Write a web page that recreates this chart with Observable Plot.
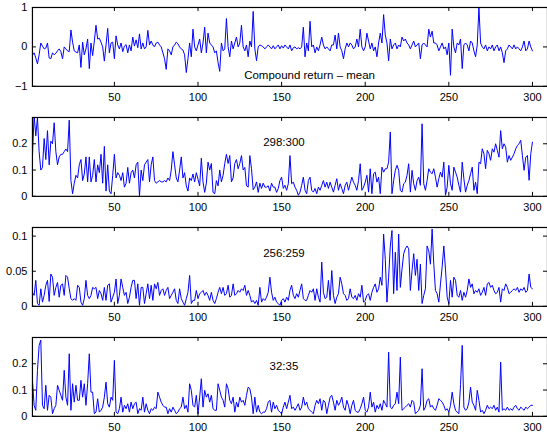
<!DOCTYPE html>
<html>
<head>
<meta charset="utf-8">
<script src="https://cdn.jsdelivr.net/npm/d3@7"></script>
<script src="https://cdn.jsdelivr.net/npm/@observablehq/plot@0.6"></script>
<style>
  html, body { margin: 0; padding: 0; background: #fff; overflow: hidden; }
  #chart { position: relative; width: 547px; height: 434px; overflow: hidden; }
  #chart svg { position: absolute; left: 0; }
</style>
</head>
<body>
<div id="chart"></div>
<script>
// Compound return minus its mean, observations 1..300
const compoundReturn = [
  -0.21,-0.15,-0.28,-0.43,-0.2,0.1,0.02,-0.05,-0.03,0.1,
  -0.28,-0.3,-0.15,-0.2,-0.16,-0.1,-0.05,-0.12,-0.3,0.0,
  -0.05,-0.1,-0.12,0.43,0.12,-0.1,-0.13,-0.15,0.05,-0.52,
  0.12,-0.2,-0.05,0.2,-0.55,0.1,-0.22,0.15,0.55,0.2,
  0.22,0.12,0.0,-0.36,0.05,0.47,-0.15,0.1,0.12,-0.3,
  0.28,0.05,-0.05,0.1,-0.12,0.02,0.06,-0.15,0.05,-0.1,
  0.25,0.02,0.18,-0.02,0.33,-0.05,0.1,-0.05,0.0,0.42,
  0.05,0.15,0.05,0.0,0.1,0.12,0.05,0.0,-0.15,-0.3,
  -0.57,-0.05,-0.1,-0.2,0.0,0.05,0.12,0.08,0.0,-0.05,
  -0.08,-0.2,-0.65,-0.3,0.1,-0.25,0.45,0.0,-0.1,0.05,
  0.2,-0.15,0.1,0.5,-0.15,0.35,0.1,0.05,0.0,-0.15,
  -0.1,-0.4,-0.62,0.1,-0.1,-0.05,0.72,0.0,-0.25,0.15,
  -0.05,0.1,0.25,0.0,0.1,0.55,0.0,-0.1,0.05,-0.25,
  0.15,0.0,0.9,-0.05,-0.35,0.0,0.05,0.03,0.0,-0.05,
  0.0,0.05,0.0,-0.05,0.03,-0.05,0.0,0.05,-0.05,0.03,
  -0.03,0.05,0.0,-0.05,0.05,-0.1,-0.02,0.0,-0.05,-0.02,
  -0.05,0.0,0.5,-0.25,0.1,-0.1,0.65,0.0,0.05,-0.15,
  0.0,-0.1,0.05,0.25,0.05,-0.05,0.0,-0.05,-0.1,0.05,
  0.05,0.3,-0.05,0.35,0.0,-0.1,-0.3,-0.05,0.1,0.0,
  0.1,0.05,-0.05,0.0,0.2,0.0,0.45,0.0,-0.1,0.0,
  0.35,0.15,-0.05,0.1,-0.1,0.0,-0.25,0.1,0.35,0.1,
  0.82,0.3,0.1,-0.35,0.2,-0.05,0.05,0.1,-0.05,0.05,
  0.0,0.25,0.15,0.2,0.1,0.05,-0.05,0.05,0.15,0.0,
  0.05,0.1,-0.3,0.05,0.1,0.05,0.0,0.45,0.25,0.4,
  0.1,0.1,0.05,-0.1,0.0,0.1,-0.05,0.0,-0.2,0.1,
  -0.72,0.45,0.0,-0.15,0.1,0.05,0.2,-0.55,0.05,0.1,
  0.05,-0.1,0.15,0.1,-0.1,-0.25,0.05,1.0,0.1,0.0,
  -0.05,0.05,-0.1,0.0,-0.05,0.05,-0.1,0.0,0.05,-0.1,
  0.0,-0.15,-0.4,-0.1,-0.05,0.05,0.0,-0.05,0.05,-0.05,
  0.0,-0.05,-0.1,0.0,0.15,-0.1,-0.05,0.15,0.0,-0.1
];

// Components 298:300
const comp298to300 = [
  0.15,0.31,0.23,0.3,0.17,0.1,0.11,0.22,0.14,0.25,
  0.12,0.21,0.2,0.28,0.17,0.12,0.15,0.16,0.16,0.17,
  0.18,0.17,0.29,0.06,0.01,0.05,0.08,0.07,0.12,0.14,
  0.06,0.085,0.15,0.055,0.15,0.055,0.08,0.14,0.055,0.12,
  0.09,0.16,0.05,0.19,0.02,0.12,0.02,0.01,0.08,0.16,
  0.07,0.09,0.08,0.06,0.09,0.035,0.05,0.11,0.05,0.09,
  0.1,0.07,0.12,0.13,0.0,0.1,0.06,0.12,0.13,0.14,
  0.055,0.12,0.15,0.06,0.05,0.055,0.06,0.055,0.055,0.06,
  0.055,0.07,0.06,0.1,0.17,0.12,0.07,0.055,0.1,0.15,
  0.07,0.09,0.04,0.02,0.07,0.06,0.085,0.055,0.09,0.065,
  0.04,0.145,0.055,0.015,0.05,0.13,0.1,0.125,0.015,0.01,
  0.06,0.04,0.1,0.055,0.08,0.125,0.16,0.125,0.155,0.055,
  0.07,0.125,0.14,0.105,0.125,0.155,0.1,0.11,0.04,0.035,
  0.155,0.105,0.025,0.035,0.055,0.015,0.05,0.03,0.05,0.035,
  0.035,0.04,0.02,0.05,0.035,0.035,0.015,0.03,0.06,0.073,
  0.03,0.042,0.023,0.048,0.155,0.048,0.054,0.035,0.023,0.004,
  0.016,0.042,0.073,0.023,0.01,0.06,0.073,0.023,0.016,0.03,
  0.01,0.035,0.023,0.042,0.06,0.035,0.054,0.03,0.054,0.035,
  0.016,0.042,0.067,0.023,0.048,0.03,0.01,0.042,0.054,0.023,
  0.048,0.073,0.054,0.042,0.023,0.06,0.124,0.023,0.035,0.054,
  0.08,0.016,0.105,0.01,0.086,0.092,0.054,0.073,0.01,0.111,
  0.092,0.105,0.105,0.13,0.245,0.01,0.06,0.099,0.118,0.099,
  0.023,0.016,0.048,0.054,0.08,0.124,0.016,0.099,0.048,0.023,
  0.06,0.073,0.042,0.276,0.048,0.023,0.06,0.105,0.092,0.086,
  0.105,0.073,0.035,0.067,0.092,0.073,0.13,0.004,0.035,0.118,
  0.048,0.023,0.111,0.092,0.073,0.042,0.016,0.13,0.067,0.016,
  0.042,0.06,0.086,0.111,0.023,0.054,0.01,0.13,0.124,0.181,
  0.162,0.105,0.175,0.162,0.137,0.181,0.168,0.2,0.175,0.149,
  0.25,0.181,0.2,0.187,0.13,0.155,0.137,0.149,0.162,0.181,
  0.194,0.2,0.213,0.155,0.099,0.149,0.155,0.061,0.162,0.206
];

// Components 256:259
const comp256to259 = [
  0.020,0.0156,0.037,0.004,0.0014,0.025,0.006,0.0156,0.030,0.037,
  0.007,0.046,0.0415,0.0156,0.027,0.034,0.013,0.030,0.032,0.0156,
  0.044,0.0415,0.025,0.011,0.0085,0.011,0.0085,0.030,0.027,0.006,
  0.0014,0.011,0.037,0.0156,0.011,0.0156,0.027,0.025,0.027,0.011,
  0.0226,0.018,0.0085,0.027,0.0085,0.030,0.032,0.006,0.013,0.020,
  0.039,0.004,0.0156,0.039,0.027,0.0156,0.020,0.004,0.013,0.027,
  0.037,0.037,0.011,0.032,0.0014,0.027,0.027,0.004,0.018,0.032,
  0.011,0.030,0.0085,0.032,0.025,0.034,0.0156,0.0226,0.025,0.0156,
  0.0226,0.027,0.011,0.0156,0.020,0.025,0.0085,0.004,0.025,0.011,
  0.006,0.0014,0.011,0.020,0.044,0.004,0.0085,0.0085,0.0226,0.011,
  0.018,0.020,0.0226,0.0156,0.020,0.0156,0.0085,0.020,0.0085,0.004,
  0.011,0.020,0.027,0.018,0.027,0.0156,0.018,0.030,0.013,0.0156,
  0.032,0.0156,0.018,0.0226,0.020,0.025,0.0226,0.030,0.0156,0.0226,
  0.0156,0.006,0.0085,0.004,0.0085,0.0014,0.027,0.006,0.011,0.0085,
  0.013,0.020,0.0415,0.020,0.0085,0.013,0.006,0.004,0.0014,0.0085,
  0.011,0.006,0.013,0.0085,0.0226,0.030,0.0156,0.011,0.018,0.013,
  0.0226,0.032,0.011,0.0085,0.0085,0.0156,0.0226,0.020,0.025,0.0085,
  0.025,0.013,0.006,0.063,0.020,0.011,0.013,0.037,0.0085,0.051,
  0.0156,0.004,0.013,0.018,0.0415,0.032,0.018,0.0156,0.0085,0.011,
  0.025,0.013,0.011,0.0156,0.0085,0.018,0.013,0.030,0.006,0.0085,
  0.0156,0.018,0.0085,0.020,0.027,0.032,0.020,0.025,0.0415,0.030,
  0.103,0.067,0.006,0.0415,0.086,0.108,0.018,0.077,0.0226,0.103,
  0.027,0.053,0.075,0.082,0.086,0.082,0.0226,0.051,0.075,0.044,
  0.067,0.0226,0.060,0.004,0.0156,0.025,0.086,0.079,0.060,0.11,
  0.060,0.0226,0.018,0.006,0.032,0.056,0.086,0.053,0.013,0.004,
  0.037,0.013,0.0415,0.037,0.0156,0.013,0.0226,0.0085,0.020,0.013,
  0.0226,0.039,0.027,0.032,0.018,0.0226,0.020,0.025,0.0156,0.020,
  0.027,0.0156,0.032,0.034,0.027,0.030,0.0226,0.018,0.020,0.027,
  0.006,0.025,0.0226,0.032,0.027,0.018,0.020,0.0226,0.025,0.0226,
  0.027,0.020,0.025,0.0226,0.027,0.020,0.0226,0.046,0.027,0.025
];

// Components 32:35
const comp32to35 = [
  0.137,0.042,0.023,0.175,0.27,0.29,0.042,0.029,0.118,0.023,
  0.08,0.073,0.01,0.029,0.042,0.118,0.099,0.08,0.061,0.175,
  0.073,0.042,0.238,0.023,0.124,0.054,0.118,0.061,0.061,0.137,
  0.073,0.124,0.042,0.124,0.238,0.092,0.092,0.01,0.016,0.067,
  0.016,0.023,0.035,0.073,0.13,0.048,0.035,0.073,0.061,0.213,
  0.016,0.01,0.029,0.073,0.016,0.042,0.029,0.048,0.016,0.054,
  0.029,0.048,0.054,0.01,0.029,0.023,0.073,0.016,0.048,0.023,
  0.01,0.029,0.023,0.035,0.029,0.092,0.073,0.054,0.042,0.035,
  0.035,0.01,0.029,0.016,0.035,0.023,0.01,0.016,0.029,0.035,
  0.073,0.029,0.042,0.016,0.124,0.099,0.042,0.035,0.08,0.01,
  0.073,0.143,0.035,0.099,0.073,0.086,0.054,0.08,0.029,0.023,
  0.023,0.124,0.099,0.073,0.061,0.035,0.124,0.105,0.061,0.048,
  0.073,0.016,0.054,0.035,0.073,0.054,0.061,0.042,0.08,0.111,
  0.105,0.073,0.01,0.073,0.016,0.042,0.016,0.01,0.016,0.016,
  0.029,0.054,0.061,0.016,0.054,0.029,0.042,0.023,0.016,0.01,
  0.035,0.054,0.029,0.054,0.08,0.029,0.035,0.023,0.035,0.048,
  0.023,0.035,0.073,0.042,0.054,0.029,0.023,0.016,0.01,0.042,
  0.061,0.048,0.067,0.023,0.061,0.054,0.01,0.042,0.073,0.08,
  0.054,0.023,0.061,0.042,0.054,0.073,0.035,0.023,0.061,0.042,
  0.01,0.042,0.061,0.023,0.016,0.016,0.029,0.048,0.073,0.023,
  0.016,0.035,0.092,0.035,0.054,0.016,0.042,0.029,0.048,0.023,
  0.061,0.048,0.035,0.244,0.035,0.029,0.042,0.048,0.092,0.048,
  0.225,0.023,0.029,0.035,0.042,0.048,0.035,0.061,0.054,0.01,
  0.016,0.023,0.042,0.181,0.023,0.035,0.061,0.067,0.035,0.042,
  0.029,0.023,0.042,0.067,0.061,0.054,0.042,0.023,0.029,0.016,
  0.042,0.092,0.048,0.023,0.016,0.01,0.12,0.27,0.035,0.023,
  0.029,0.054,0.111,0.054,0.042,0.023,0.099,0.061,0.016,0.023,
  0.01,0.023,0.042,0.029,0.035,0.029,0.042,0.023,0.035,0.016,
  0.206,0.023,0.029,0.023,0.035,0.023,0.029,0.023,0.035,0.042,
  0.029,0.023,0.035,0.029,0.023,0.035,0.029,0.035,0.042,0.042
];

const xTicks = [50, 100, 150, 200, 250, 300];

const panelTitles = ["Compound return – mean", "298:300", "256:259", "32:35"];
const panelSeries = [compoundReturn, comp298to300, comp256to259, comp32to35];
const panelYDomains = [[-1, 1], [0, 0.3], [0, 0.1123], [0, 0.3]];
const panelYTicks = [[-1, 0, 1], [0, 0.1, 0.2], [0, 0.05, 0.1], [0, 0.1, 0.2]];
// where each panel's caption sits, in that panel's data units
const titleAt = [[166.7, -0.71], [151.4, 0.206], [151.4, 0.0749], [151.4, 0.19]];

const W = 548, H = 110, ML = 32, MR = 0, MT = 7, MB = 24;
const plotW = W - ML - MR, plotH = H - MT - MB, tickLen = 4;
const ink = "#000";
const chart = document.getElementById("chart");

// plain tick labels: "0", "0.05", "−1"
const fmt = d => (d < 0 ? "\u2212" : "") + String(Math.abs(d));

panelSeries.forEach((values, k) => {
  const data = values.map((v, i) => ({t: i + 1, v}));
  const svg = Plot.plot({
    width: W,
    height: H,
    marginLeft: ML,
    marginRight: MR,
    marginTop: MT,
    marginBottom: MB,
    style: {fontFamily: "'Liberation Sans', Arial, Helvetica, sans-serif", fontSize: "11px", color: ink, background: "transparent", overflow: "visible"},
    x: {domain: [1, 309]},
    y: {domain: panelYDomains[k]},
    marks: [
      Plot.lineY(data, {x: "t", y: "v", stroke: "#0000ff", strokeWidth: 1, clip: true}),
      Plot.frame({stroke: ink, strokeWidth: 1.2}),
      // inward ticks on all four sides
      Plot.tickX(xTicks, {x: d => d, insetTop: plotH - tickLen, stroke: ink}),
      Plot.tickX(xTicks, {x: d => d, insetBottom: plotH - tickLen, stroke: ink}),
      Plot.tickY(panelYTicks[k], {y: d => d, insetRight: plotW - tickLen, stroke: ink}),
      Plot.tickY(panelYTicks[k], {y: d => d, insetLeft: plotW - tickLen, stroke: ink}),
      Plot.axisX({ticks: xTicks, tickSize: 0, tickPadding: 7, tickFormat: fmt, label: null}),
      Plot.axisY({ticks: panelYTicks[k], tickSize: 0, tickPadding: 5, tickFormat: fmt, label: null}),
      Plot.text([panelTitles[k]], {x: titleAt[k][0], y: titleAt[k][1], text: d => d, fontSize: 11.5, fill: ink})
    ]
  });
  svg.style.top = (k * H) + "px";
  chart.appendChild(svg);
});
</script>
</body>
</html>
